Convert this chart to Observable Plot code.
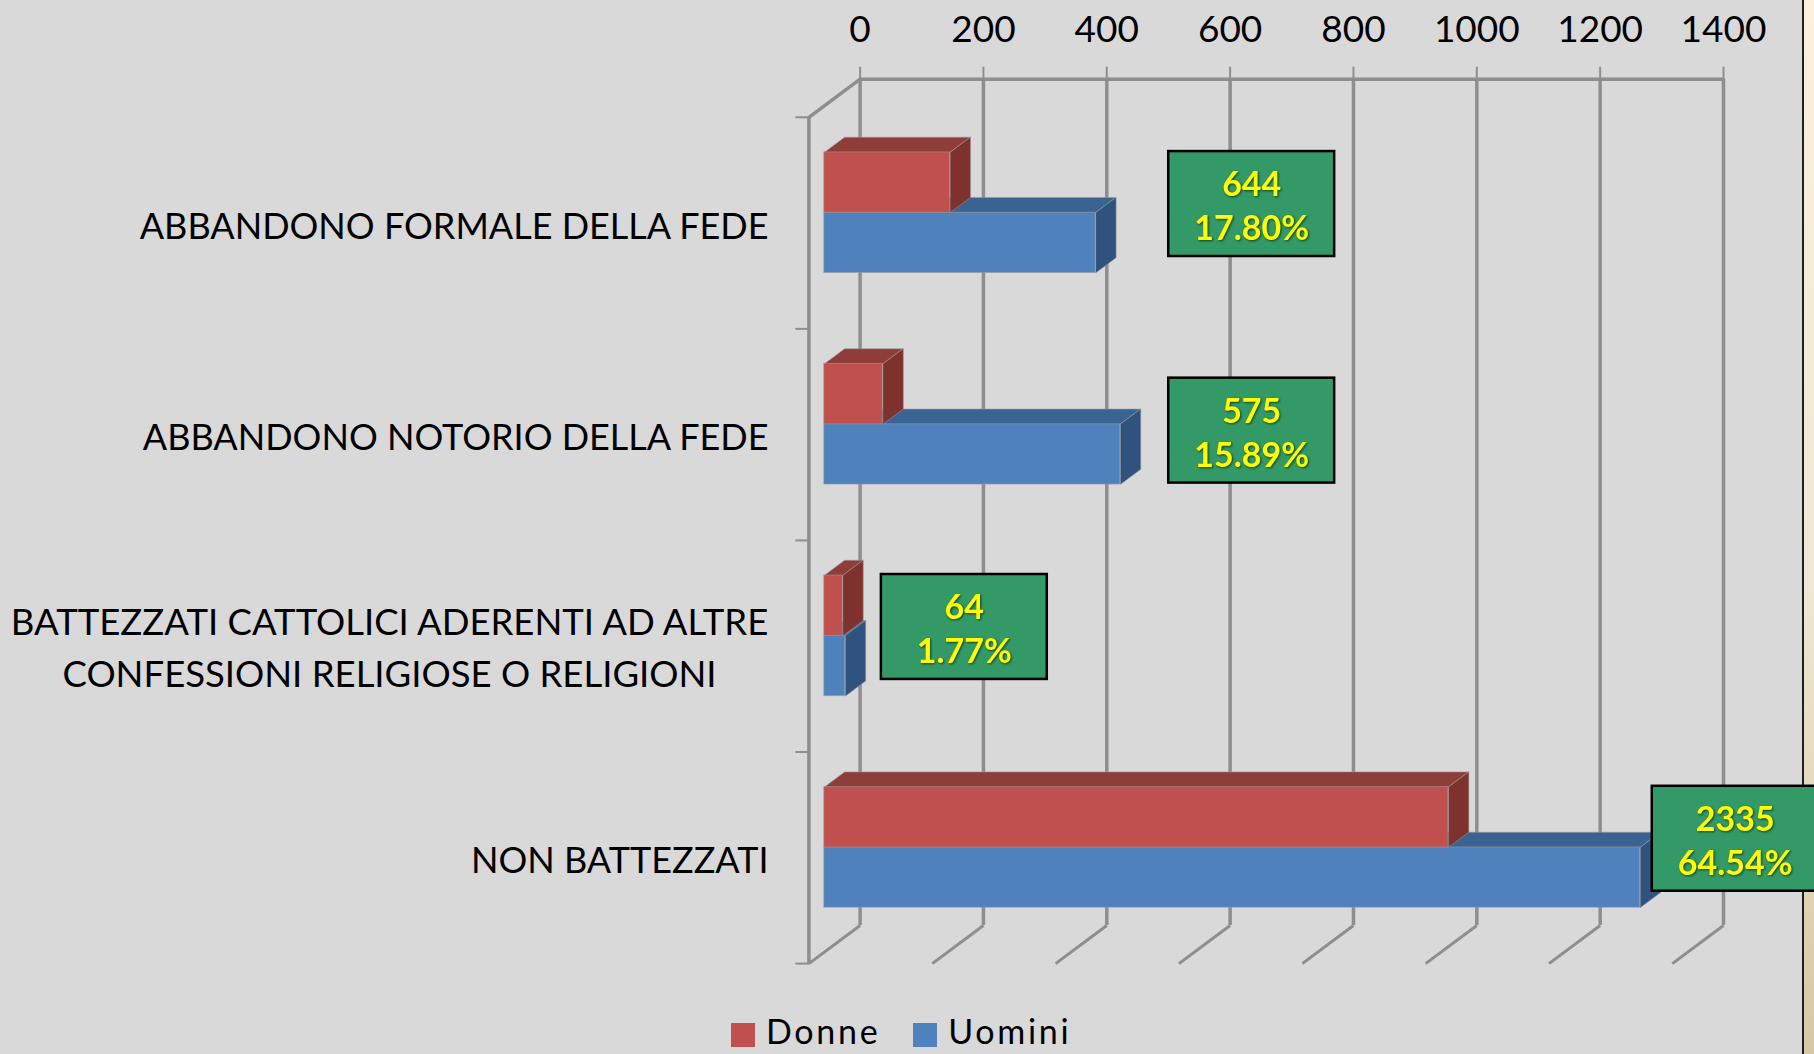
<!DOCTYPE html>
<html lang="it">
<head>
<meta charset="utf-8">
<script src="https://cdn.jsdelivr.net/npm/d3@7"></script>
<script src="https://cdn.jsdelivr.net/npm/@observablehq/plot@0.6"></script>
<style>
  html, body { margin: 0; padding: 0; width: 1814px; height: 1054px; overflow: hidden; background: #d9d9d9; }
  #strip { position: absolute; left: 1802px; top: 0; width: 12px; height: 1054px; box-sizing: border-box;
           border-left: 2.5px solid #1f1f1f; background: linear-gradient(#fbf1dc, #f0e8d4 55%, #d5c8a4); }
  #chart { position: absolute; left: 0; top: 0; }
  #legend { position: absolute; left: 731px; top: 1014px; height: 34px; width: 400px; }
  #legend > div { min-height: 0 !important; margin: 0 !important; line-height: 34px; letter-spacing: 2.7px; }
  #legend span { margin-right: 33px !important; line-height: 34px; }
  #legend span svg { margin-right: 11px !important; position: relative; top: 4px; }
  svg { overflow: hidden; }
</style>
</head>
<body>
<div id="strip"></div>
<div id="chart"></div>
<div id="legend"></div>
<script>
const categories = [
  "ABBANDONO FORMALE DELLA FEDE",
  "ABBANDONO NOTORIO DELLA FEDE",
  "BATTEZZATI CATTOLICI ADERENTI AD ALTRE\nCONFESSIONI RELIGIOSE O RELIGIONI",
  "NON BATTEZZATI"
];
const series = ["Donne", "Uomini"];
const donne = [204, 95, 30, 1012];
const uomini = [440, 480, 34, 1323];
const totals = ["644", "575", "64", "2335"];
const shares = ["17.80%", "15.89%", "1.77%", "64.54%"];
const xTicks = [0, 200, 400, 600, 800, 1000, 1200, 1400];
const rowEdges = [0, 1, 2, 3, 4];
const labelBoxX = [635, 635, 169, 1419];
const labelBoxRow = [0.59, 1.661, 2.589, 3.59];

const frontColors = ["#c0504d", "#4f81bd"];
const topColors = ["#8f3d39", "#3b6391"];
const sideColors = ["#7f312e", "#30527f"];
const grid = "#8e8e8e";
const font = "Lato, sans-serif";

// Oblique projection: depth 0 is the back wall, depth 1 the front of the floor.
const depthX = -83, depthY = 0.18;
const at = (v, row, depth) => ({x: v + depth * depthX, y: row + depth * depthY});
const barFront = 0.7, barBack = 0.3;
const barSpan = 0.285, barCentre = 0.505;

const bars = categories.flatMap((c, i) => [
  {series: 0, i, value: donne[i], r0: i + barCentre - barSpan, r1: i + barCentre},
  {series: 1, i, value: uomini[i], r0: i + barCentre, r1: i + barCentre + barSpan}
]);
const polygon = (b, corners) => corners.map(([v, r, d]) => ({...at(v, r, d), key: b.i}));
const topFace = b => polygon(b, [[0, b.r0, barFront], [b.value, b.r0, barFront], [b.value, b.r0, barBack], [0, b.r0, barBack]]);
const sideFace = b => polygon(b, [[b.value, b.r0, barFront], [b.value, b.r1, barFront], [b.value, b.r1, barBack], [b.value, b.r0, barBack]]);

const barMarks = s => {
  const these = bars.filter(b => b.series === s);
  const edge = {stroke: "#9a9a9a", strokeOpacity: 0.55, strokeWidth: 1, curve: "linear-closed", z: "key"};
  return [
    Plot.line(these.flatMap(topFace), {x: "x", y: "y", fill: topColors[s], ...edge}),
    Plot.line(these.flatMap(sideFace), {x: "x", y: "y", fill: sideColors[s], ...edge}),
    Plot.rect(these, {
      x1: () => at(0, 0, barFront).x,
      x2: b => at(b.value, 0, barFront).x,
      y1: b => at(0, b.r0, barFront).y,
      y2: b => at(0, b.r1, barFront).y,
      fill: () => series[s], stroke: "#9a9a9a", strokeOpacity: 0.55, strokeWidth: 1
    })
  ];
};

const singleLine = categories.map((c, i) => ({c, i})).filter(d => !d.c.includes("\n"));
const multiLine = categories.map((c, i) => ({c, i})).filter(d => d.c.includes("\n"));
const boxes = categories.map((c, i) => ({x: labelBoxX[i], r: labelBoxRow[i], i}));
const textShadow = "drop-shadow(1.5px 1.5px 1px rgba(0,40,0,0.75))";

const chart = Plot.plot({
  width: 1814,
  height: 1014,
  marginLeft: 859.6,
  marginRight: 91,
  marginTop: 78.7,
  marginBottom: 89,
  style: {background: "transparent", fontFamily: font, color: "#000"},
  x: {domain: [0, 1400], axis: null},
  y: {domain: [0, 4], reverse: true, axis: null},
  color: {domain: series, range: frontColors},
  marks: [
    // back wall
    Plot.ruleX(xTicks, {x: d => d, y1: 0, y2: 4, stroke: grid, strokeWidth: 3.5}),
    Plot.ruleY([0], {x1: 0, x2: 1400, stroke: grid, strokeWidth: 3.5}),
    // floor and side wall
    Plot.link(xTicks, {x1: d => d, y1: 4, x2: d => at(d, 4, 1).x, y2: at(0, 4, 1).y, stroke: grid, strokeWidth: 3}),
    Plot.link([0], {x1: 0, y1: 0, x2: at(0, 0, 1).x, y2: at(0, 0, 1).y, stroke: grid, strokeWidth: 3.5}),
    Plot.ruleX([at(0, 0, 1).x], {x: d => d, y1: at(0, 0, 1).y, y2: at(0, 4, 1).y, stroke: grid, strokeWidth: 3.5}),
    Plot.link(rowEdges, {
      x1: at(0, 0, 1).x, x2: at(0, 0, 1).x - 22,
      y1: d => at(0, d, 1).y, y2: d => at(0, d, 1).y,
      stroke: grid, strokeWidth: 2
    }),
    // top axis
    Plot.axisX(xTicks, {
      anchor: "top", tickSize: 13, tickPadding: 24, stroke: grid, strokeWidth: 2,
      fill: "#000", fontSize: 37, tickFormat: d => `${d}`, label: null, fontFamily: font
    }),
    // bars
    ...barMarks(1),
    ...barMarks(0),
    // category labels
    Plot.text(singleLine, {
      x: -148.5, y: d => d.i + 0.699, text: "c", textAnchor: "end",
      fontSize: 36, fill: "#000", fontFamily: font
    }),
    Plot.text(multiLine, {
      x: -763, y: d => d.i + 0.672, text: "c", textAnchor: "middle", lineHeight: 1.42,
      fontSize: 36.5, fill: "#000", fontFamily: font
    }),
    // value boxes
    Plot.rect(boxes, {
      x1: d => d.x - 134.5, x2: d => d.x + 134.5,
      y1: d => d.r - 0.248, y2: d => d.r + 0.248,
      fill: "#339966", stroke: "#000", strokeWidth: 2.5
    }),
    Plot.text(boxes, {
      x: "x", y: "r", dy: -19, text: d => totals[d.i],
      fontSize: 34, fontWeight: 700, fill: "#ffff00", fontFamily: font, imageFilter: textShadow
    }),
    Plot.text(boxes, {
      x: "x", y: "r", dy: 25, text: d => shares[d.i],
      fontSize: 34, fontWeight: 700, fill: "#ffff00", fontFamily: font, imageFilter: textShadow
    })
  ]
});
document.getElementById("chart").append(chart);

const legend = Plot.legend({
  color: {domain: series, range: frontColors},
  legend: "swatches",
  swatchSize: 24,
  style: {fontFamily: font, fontSize: "34px", color: "#000", margin: 0}
});
document.getElementById("legend").append(legend);
</script>
</body>
</html>
